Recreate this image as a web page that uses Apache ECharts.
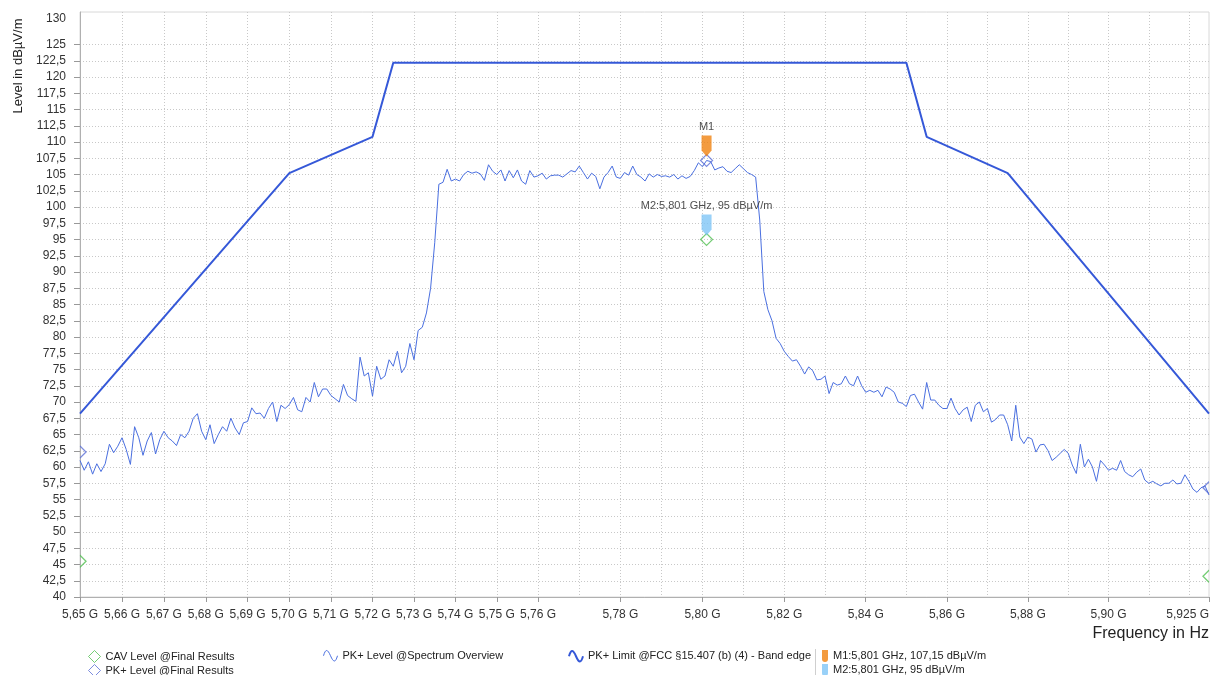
<!DOCTYPE html>
<html><head><meta charset="utf-8">
<script src="https://cdn.jsdelivr.net/npm/echarts@6/dist/echarts.min.js"></script>
<style>html,body{margin:0;padding:0;background:#fff}#c{width:1217px;height:675px}</style>
</head><body><div id="c"></div>
<script>
// ---------- data ----------
const sweepStartGHz = 5.65;
const sweepStepGHz = 0.001;
const pkSpectrum = [
 61.0, 59.5, 60.8, 58.9, 60.5, 59.3, 60.5, 63.5, 62.2, 63.2,
 64.5, 62.7, 60.4, 66.2, 64.5, 61.8, 64.0, 65.3, 62.0, 64.2,
 65.5, 64.5, 64.0, 63.3, 65.0, 64.5, 65.5, 67.5, 68.2, 65.5,
 64.2, 66.5, 63.6, 65.0, 66.2, 65.5, 67.5, 66.0, 65.0, 66.8,
 67.0, 69.1, 68.2, 68.3, 67.5, 69.0, 70.0, 67.0, 69.5, 69.0,
 69.6, 70.7, 68.8, 68.5, 70.7, 70.0, 73.0, 70.8, 72.0, 72.0,
 71.0, 70.5, 70.0, 72.7, 71.0, 70.5, 70.1, 76.9, 74.0, 74.5,
 70.9, 75.5, 73.5, 74.0, 76.5, 75.5, 77.8, 74.5, 75.5, 79.0,
 76.5, 81.0, 81.5, 83.7, 87.5, 94.5, 103.5, 103.8, 105.8, 104.0,
 104.3, 104.0, 105.0, 105.5, 105.2, 105.4, 105.1, 104.1, 106.5, 105.5,
 105.0, 105.7, 104.0, 105.6, 104.5, 105.7, 104.0, 103.5, 105.6, 104.6,
 104.8, 105.2, 104.3, 104.8, 104.9, 104.9, 104.6, 105.1, 105.6, 105.4,
 106.3, 105.3, 104.3, 105.2, 104.7, 102.8, 104.6, 105.3, 106.3, 104.6,
 104.4, 105.3, 104.9, 106.3, 105.0, 104.6, 104.0, 105.1, 104.6, 105.0,
 104.7, 104.8, 104.6, 105.0, 104.3, 104.8, 104.4, 104.7, 105.6, 106.8,
 106.2, 107.15, 107.0, 105.7, 106.0, 106.2, 105.5, 105.3, 105.9, 106.5,
 105.9, 105.3, 105.0, 104.6, 98.0, 87.0, 84.2, 82.5, 79.8, 79.0,
 77.8, 77.0, 76.3, 76.5, 75.5, 74.3, 75.4, 74.8, 73.4, 73.5,
 74.0, 71.3, 73.0, 72.6, 72.8, 74.0, 72.8, 72.5, 74.0, 72.5,
 71.5, 71.8, 71.5, 71.8, 70.8, 72.3, 72.0, 71.5, 70.0, 69.8,
 69.3, 71.0, 71.2, 70.0, 68.9, 73.0, 70.3, 70.3, 69.5, 69.0,
 69.0, 70.6, 69.0, 68.0, 68.8, 69.2, 67.0, 69.5, 70.0, 68.5,
 69.0, 66.9, 67.3, 68.0, 68.0, 66.5, 64.0, 69.5, 64.6, 63.6,
 64.6, 64.3, 62.3, 63.4, 63.5, 62.5, 61.0, 61.5, 62.1, 62.7,
 62.1, 60.3, 59.0, 63.5, 60.0, 61.2, 60.0, 57.8, 61.0, 60.3,
 59.5, 59.8, 59.5, 61.0, 59.3, 58.8, 58.5, 59.2, 59.7, 58.0,
 57.5, 57.8, 57.4, 57.1, 57.5, 57.5, 58.0, 57.4, 57.5, 58.8,
 57.8, 56.6, 56.1, 56.8, 57.1, 55.7
];
const limitFreq  = [5.65, 5.70, 5.72, 5.725, 5.85, 5.855, 5.875, 5.925];
const limitLevel = [68.2, 105.2, 110.8, 122.2, 122.2, 110.8, 105.2, 68.2];
const cavFinalFreq  = [5.65, 5.801, 5.925];
const cavFinalLevel = [45.5, 95, 43.2];
const pkFinalFreq  = [5.65, 5.801, 5.925];
const pkFinalLevel = [62.3, 107.15, 56.8];
const markerNames = ['M1:5,801 GHz, 107,15 dBµV/m', 'M2:5,801 GHz, 95 dBµV/m'];
const markerTags  = ['M1', 'M2:5,801 GHz, 95 dBµV/m'];
const markerFreq  = [5.801, 5.801];
const markerLevel = [107.15, 95];
const seriesNames = ['CAV Level @Final Results', 'PK+ Level @Final Results', 'PK+ Level @Spectrum Overview', 'PK+ Limit @FCC §15.407 (b) (4) - Band edge'];
const xMin = 5.65, xMax = 5.925;
const yMin = 40, yMax = 130;
const xLabelTicks = [5.65, 5.66, 5.67, 5.68, 5.69, 5.70, 5.71, 5.72, 5.73, 5.74, 5.75, 5.76, 5.78, 5.80, 5.82, 5.84, 5.86, 5.88, 5.90, 5.925];
const xGridTicks = [5.66, 5.67, 5.68, 5.69, 5.70, 5.71, 5.72, 5.73, 5.74, 5.75, 5.76, 5.77, 5.78, 5.79, 5.80, 5.81, 5.82, 5.83, 5.84, 5.85, 5.86, 5.87, 5.88, 5.89, 5.90, 5.91, 5.92];
const yTickMarks = [40, 42.5, 45, 47.5, 50, 52.5, 55, 57.5, 60, 62.5, 65, 67.5, 70, 72.5, 75, 77.5, 80, 82.5, 85, 87.5, 90, 92.5, 95, 97.5, 100, 102.5, 105, 107.5, 110, 112.5, 115, 117.5, 120, 122.5, 125];
const yLabelTicks = [40, 42.5, 45, 47.5, 50, 52.5, 55, 57.5, 60, 62.5, 65, 67.5, 70, 72.5, 75, 77.5, 80, 82.5, 85, 87.5, 90, 92.5, 95, 97.5, 100, 102.5, 105, 107.5, 110, 112.5, 115, 117.5, 120, 122.5, 125, 130];

// ---------- styles ----------
const FONT = '"Liberation Sans", Arial, sans-serif';
const C_GREEN = '#52c052', C_PKDIA = '#5b6fd6', C_TRACE = '#4a6fe0', C_LIMIT = '#3558d8';
const C_ORANGE = '#f0820f', C_LBLUE = '#80c6f6';
const WAVE = 'path://M0,7 C2,0 4,0 7,7 C10,14 12,14 14,7';
const BAR = 'path://M0,0H6V9Q6,12 3,12Q0,12 0,9Z';
const PIN = 'path://M0,0L10,0L10,15L5,21L0,15Z';

function finalPoints(freqs, levels) {
  return freqs.map((f, i) => {
    const it = { value: [f, levels[i]] };
    if (f === xMin) { it.symbol = 'path://M0,0L6,6L0,12'; it.symbolSize = [6, 12]; it.symbolOffset = [3, 0]; }
    else if (f === xMax) { it.symbol = 'path://M6,0L0,6L6,12'; it.symbolSize = [6, 12]; it.symbolOffset = [-3, 0]; }
    return it;
  });
}
const spectrumData = pkSpectrum.map((v, i) => [+(sweepStartGHz + i * sweepStepGHz).toFixed(3), v]);
const limitData = limitFreq.map((f, i) => [f, limitLevel[i]]);

function fmtX(v) {
  let s = String(Math.round(v * 1000) / 1000);
  const d = s.indexOf('.') < 0 ? 0 : s.length - s.indexOf('.') - 1;
  if (d < 2) s = (Math.round(v * 1000) / 1000).toFixed(2);
  return s.replace('.', ',') + ' G';
}
function fmtY(v) {
  const s = String(v).replace('.', ',');
  return v === yMax ? '{t|' + s + '}' : s;
}

const legendText = { fontSize: 11, color: '#222', fontFamily: FONT };
const hollow = (c, w) => ({ color: 'rgba(0,0,0,0)', borderColor: c, borderWidth: w });
function oneLegend(left, top, w, item) {
  return { left: left, top: top, padding: 0, itemWidth: w, itemHeight: 12, itemGap: 0, selectedMode: false, textStyle: legendText, data: [item] };
}

const option = {
  animation: false,
  backgroundColor: '#fff',
  textStyle: { fontFamily: FONT },
  grid: { left: 80, right: 8, top: 12, bottom: 78, show: true, borderColor: '#d8d8d8', borderWidth: 1, containLabel: false, outerBoundsMode: 'none' },
  xAxis: [
    {
      type: 'log', logBase: 10, min: xMin, max: xMax,
      axisLine: { show: true, lineStyle: { color: '#b0b0b0', width: 1 } },
      axisTick: { show: true, customValues: xLabelTicks, length: 5, lineStyle: { color: '#999' } },
      axisLabel: { customValues: xLabelTicks, formatter: fmtX, fontSize: 12, color: '#333', margin: 12, alignMaxLabel: 'right', fontFamily: FONT },
      splitLine: { show: false }
    },
    {
      type: 'log', logBase: 10, min: xMin, max: xMax, position: 'bottom',
      axisLine: { show: false }, axisLabel: { show: false },
      axisTick: { show: false, customValues: xGridTicks },
      splitLine: { show: true, lineStyle: { color: '#c8c8c8', type: [1, 2], width: 1 } }
    }
  ],
  yAxis: {
    type: 'value', min: yMin, max: yMax, interval: 2.5,
    axisLine: { show: true, lineStyle: { color: '#b0b0b0', width: 1 } },
    axisTick: { show: true, customValues: yTickMarks, length: 6, lineStyle: { color: '#999' } },
    axisLabel: { customValues: yLabelTicks, formatter: fmtY, fontSize: 12, color: '#333', margin: 14, fontFamily: FONT,
      rich: { t: { fontSize: 12, color: '#333', padding: [14, 0, 0, 0], fontFamily: FONT } } },
    splitLine: { show: true, lineStyle: { color: '#c8c8c8', type: [1, 2], width: 1 } }
  },
  legend: [
    oneLegend(88, 650, 12, { name: seriesNames[0], icon: 'diamond', itemStyle: hollow(C_GREEN, 1) }),
    oneLegend(88, 664, 12, { name: seriesNames[1], icon: 'diamond', itemStyle: hollow(C_PKDIA, 1) }),
    oneLegend(323, 650, 14, { name: seriesNames[2], icon: WAVE, itemStyle: hollow(C_TRACE, 1) }),
    oneLegend(568, 650, 14, { name: seriesNames[3], icon: WAVE, itemStyle: hollow(C_LIMIT, 2) }),
    oneLegend(822, 650, 6, { name: markerNames[0], icon: BAR, itemStyle: { color: C_ORANGE, borderWidth: 0 } }),
    oneLegend(822, 664, 6, { name: markerNames[1], icon: BAR, itemStyle: { color: C_LBLUE, borderWidth: 0 } })
  ],
  graphic: [
    { type: 'text', x: 18, y: 66, rotation: Math.PI / 2, style: { text: 'Level in dBµV/m', fill: '#222', align: 'center', verticalAlign: 'middle', font: '13px ' + FONT } },
    { type: 'text', x: 1209, y: 634, style: { text: 'Frequency in Hz', fill: '#222', align: 'right', verticalAlign: 'middle', font: '16px ' + FONT } },
    { type: 'line', shape: { x1: 815.5, y1: 649, x2: 815.5, y2: 675 }, style: { stroke: '#cfcfcf', lineWidth: 1 } }
  ],
  series: [
    { name: seriesNames[3], type: 'line', data: limitData, symbol: 'none', lineStyle: { color: C_LIMIT, width: 2 }, itemStyle: { color: C_LIMIT }, z: 2 },
    { name: seriesNames[2], type: 'line', data: spectrumData, symbol: 'none', lineStyle: { color: C_TRACE, width: 1 }, itemStyle: { color: C_TRACE }, z: 3 },
    { name: seriesNames[0], type: 'scatter', data: finalPoints(cavFinalFreq, cavFinalLevel), symbol: 'diamond', symbolSize: 12, clip: false,
      itemStyle: hollow(C_GREEN, 1.2), z: 4 },
    { name: seriesNames[1], type: 'scatter', data: finalPoints(pkFinalFreq, pkFinalLevel), symbol: 'diamond', symbolSize: 12, clip: false,
      itemStyle: hollow(C_PKDIA, 1.2), z: 4 },
    { name: markerNames[0], type: 'scatter', data: [[markerFreq[0], markerLevel[0]]], symbol: PIN, symbolSize: [10, 21], symbolOffset: [0, -14.5],
      itemStyle: { color: C_ORANGE }, z: 5,
      label: { show: true, position: 'top', distance: 3, formatter: markerTags[0], fontSize: 11, color: '#222', fontFamily: FONT } },
    { name: markerNames[1], type: 'scatter', data: [[markerFreq[1], markerLevel[1]]], symbol: PIN, symbolSize: [10, 21], symbolOffset: [0, -14.5],
      itemStyle: { color: C_LBLUE }, z: 5,
      label: { show: true, position: 'top', distance: 3, formatter: markerTags[1], fontSize: 11, color: '#222', fontFamily: FONT } }
  ]
};
const chart = echarts.init(document.getElementById('c'), null, { renderer: 'canvas' });
chart.setOption(option);
</script>
</body></html>
